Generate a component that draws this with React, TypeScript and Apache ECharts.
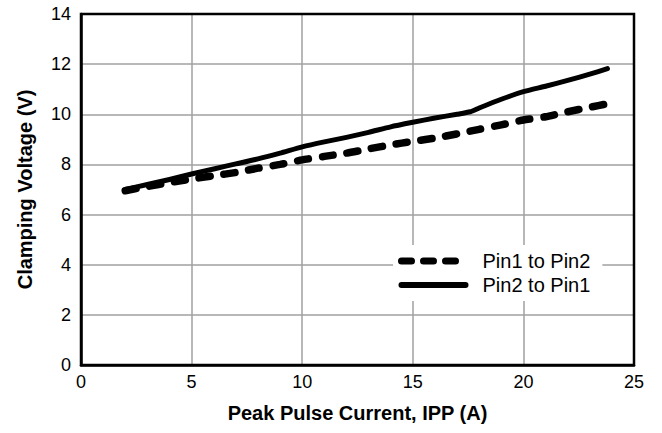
import React, { useEffect, useRef } from "react";
import * as echarts from "echarts";

const xTicks = [0, 5, 10, 15, 20, 25];
const yTicks = [0, 2, 4, 6, 8, 10, 12, 14];

const pin12X = [2, 3, 4, 5, 6, 7, 8, 9, 10, 11, 12, 13, 14, 15, 16, 17, 18, 19, 20, 21, 22, 23, 23.8];
const pin12Y = [6.95, 7.12, 7.28, 7.42, 7.55, 7.68, 7.85, 8.0, 8.18, 8.32, 8.45, 8.62, 8.78, 8.92, 9.05, 9.22, 9.4, 9.58, 9.77, 9.9, 10.1, 10.28, 10.42];

const pin21X = [2, 3, 4, 5, 6, 7, 8, 9, 10, 11, 12, 13, 14, 15, 16, 17, 17.6, 18, 19, 20, 21, 22, 23, 23.8];
const pin21Y = [7.0, 7.2, 7.4, 7.62, 7.82, 8.02, 8.22, 8.45, 8.7, 8.9, 9.08, 9.28, 9.5, 9.68, 9.85, 10.0, 10.1, 10.25, 10.6, 10.9, 11.12, 11.35, 11.6, 11.82];

const seriesNames = ["Pin1 to Pin2", "Pin2 to Pin1"];
const xTitle = "Peak Pulse Current, IPP (A)";
const yTitle = "Clamping Voltage (V)";

const FONT = "'Liberation Sans', Arial, Helvetica, sans-serif";

export default function App() {
  const ref = useRef<HTMLDivElement>(null);
  useEffect(() => {
    if (!ref.current) return;
    const chart = echarts.init(ref.current, null, { renderer: "svg" });
    const pair = (xs: number[], ys: number[]) => xs.map((x, i) => [x, ys[i]]);
    chart.setOption({
      animation: false,
      backgroundColor: "#ffffff",
      textStyle: { fontFamily: FONT },
      grid: {
        left: 81,
        right: 28,
        top: 14,
        bottom: 68,
        show: true,
        borderColor: "#000",
        borderWidth: 2.5,
        backgroundColor: "transparent",
        z: 3,
      },
      legend: {
        orient: "vertical",
        left: 393,
        top: 245,
        backgroundColor: "#ffffff",
        padding: [5, 12, 5, 5],
        itemWidth: 64,
        itemHeight: 12,
        itemGap: 2,
        textStyle: { fontSize: 20, color: "#000", fontFamily: FONT, lineHeight: 22, padding: [0, 0, 0, 12] },
        data: [
          { name: seriesNames[0], itemStyle: { opacity: 0 }, lineStyle: { type: [10, 12], width: 7, cap: "round", color: "#000" } },
          { name: seriesNames[1], itemStyle: { opacity: 0 }, lineStyle: { type: "solid", width: 6, color: "#000" } },
        ],
        z: 4,
      },
      xAxis: {
        type: "value",
        min: xTicks[0],
        max: xTicks[xTicks.length - 1],
        interval: 5,
        name: xTitle,
        nameLocation: "middle",
        nameGap: 38,
        nameTextStyle: { fontSize: 20, fontWeight: "bold", color: "#000", fontFamily: FONT },
        axisLine: { show: true, lineStyle: { color: "#000", width: 2.5 } },
        axisTick: { show: false },
        axisLabel: { fontSize: 18, color: "#000", margin: 8, fontFamily: FONT },
        splitLine: { show: true, lineStyle: { color: "#a0a0a0", width: 1.5 } },
      },
      yAxis: {
        type: "value",
        min: yTicks[0],
        max: yTicks[yTicks.length - 1],
        interval: 2,
        name: yTitle,
        nameLocation: "middle",
        nameGap: 46,
        nameTextStyle: { fontSize: 20, fontWeight: "bold", color: "#000", fontFamily: FONT },
        axisLine: { show: true, lineStyle: { color: "#000", width: 2.5 } },
        axisTick: { show: false },
        axisLabel: { fontSize: 18, color: "#000", margin: 10, fontFamily: FONT },
        splitLine: { show: true, lineStyle: { color: "#a0a0a0", width: 1.5 } },
      },
      series: [
        {
          name: seriesNames[0],
          type: "line",
          data: pair(pin12X, pin12Y),
          symbol: "none",
          showSymbol: false,
          smooth: 0.2,
          lineStyle: { color: "#000", width: 7.5, type: [11, 14], cap: "round", join: "round" },
          itemStyle: { color: "#000" },
          z: 2,
        },
        {
          name: seriesNames[1],
          type: "line",
          data: pair(pin21X, pin21Y),
          symbol: "none",
          showSymbol: false,
          smooth: 0.2,
          lineStyle: { color: "#000", width: 5, type: "solid", cap: "round", join: "round" },
          itemStyle: { color: "#000" },
          z: 2,
        },
      ],
    });
    return () => chart.dispose();
  }, []);
  return (
    <div
      ref={ref}
      style={{ position: "fixed", left: 0, top: 0, width: 662, height: 433 }}
    />
  );
}
